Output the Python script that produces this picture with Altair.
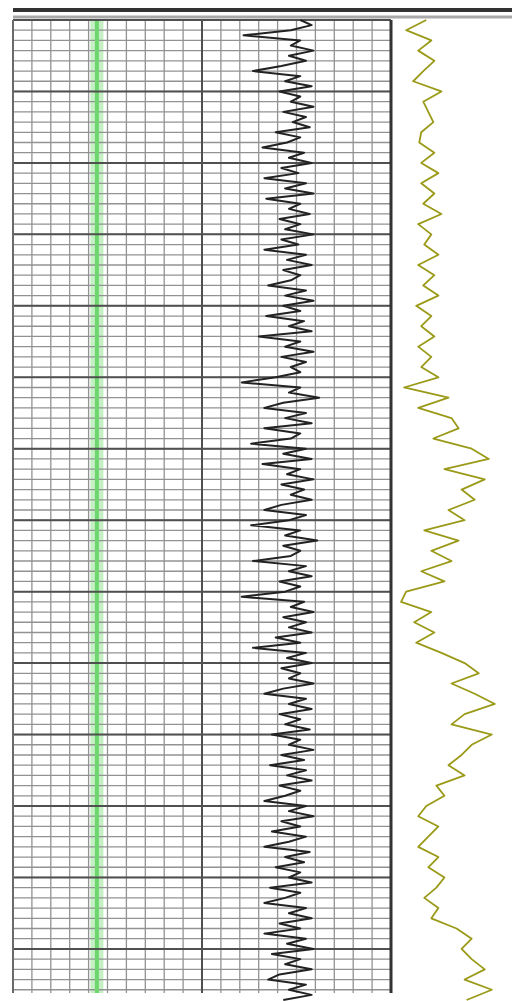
import altair as alt
import pandas as pd

# ---------------- data ----------------
# depth (m) sampled every 1 m for the left-track curve
black_top = 1000
black_vals = [
    152, 158, 147, 122, 152, 147, 159, 146, 155, 142,
    127, 152, 144, 158, 141, 152, 147, 159, 143, 155,
    148, 157, 139, 152, 145, 132, 154, 146, 158, 142,
    151, 133, 155, 144, 159, 134, 152, 146, 157, 141,
    152, 144, 159, 142, 151, 133, 155, 145, 158, 143,
    152, 147, 135, 155, 144, 159, 143, 152, 134, 154,
    146, 158, 130, 152, 144, 159, 142, 155, 147, 152,
    139, 121, 152, 146, 162, 143, 133, 155, 144, 158,
    133, 152, 147, 126, 155, 143, 158, 132, 152, 145,
    159, 142, 154, 147, 158, 142, 133, 155, 146, 126,
    152, 144, 161, 143, 152, 147, 127, 155, 146, 158,
    141, 152, 144, 121, 154, 147, 159, 143, 155, 146,
    158, 139, 152, 127, 155, 145, 158, 142, 152, 146,
    159, 143, 133, 155, 146, 158, 141, 152, 144, 157,
    137, 152, 146, 159, 142, 154, 136, 155, 145, 158,
    141, 152, 144, 133, 155, 146, 159, 142, 152, 137,
    155, 146, 133, 157, 144, 154, 139, 152, 146, 158,
    136, 152, 144, 133, 155, 146, 158, 141, 152, 133,
    155, 145, 159, 137, 152, 144, 158, 141, 135, 155,
    146, 158, 143,
]
black_depth = [black_top + i for i in range(len(black_vals))]

# right-track curve, sampled every 2 m
olive_vals = [
    35, 15, 40, 27, 43, 32, 22, 50, 32, 37,
    42, 30, 28, 43, 30, 47, 30, 43, 32, 50,
    27, 40, 33, 47, 27, 43, 32, 47, 25, 40,
    30, 43, 27, 40, 30, 47, 13, 57, 27, 60,
    67, 42, 80, 97, 53, 93, 70, 83, 57, 73,
    33, 67, 40, 60, 30, 53, 15, 10, 40, 23,
    43, 25, 50, 73, 87, 60, 83, 103, 73, 60,
    100, 80, 70, 57, 73, 45, 53, 35, 27, 47,
    37, 27, 47, 37, 53, 45, 33, 47, 40, 65,
    80, 70, 80, 93, 73, 100, 75,
]
olive_depth = [black_top + 2 * i for i in range(len(olive_vals))]

# grid / scales
LW, RW, H = 378, 121, 985
PX_PER_M = 5.104
GRID_TOP_PX = 12
grid_top = 1000
depth_min = grid_top - GRID_TOP_PX / PX_PER_M
depth_max = grid_top + (H - GRID_TOP_PX) / PX_PER_M

minor_depths = [1000 + 2 * i for i in range(96)]
major_depths = [1000 + 14 * i for i in range(14)]
minor_x = [10 * i for i in range(21)]
mid_x = [100]
edge_left = [0]
edge_right = [200]
green_x = [44.4]

yscale = alt.Scale(domain=[depth_min, depth_max], reverse=True, nice=False, zero=False, padding=0)
xl = alt.Scale(domain=[0, 200], nice=False, zero=False, padding=0)
xr = alt.Scale(domain=[0, 120], nice=False, zero=False, padding=0)


def hrules(vals, color, w):
    return alt.Chart(pd.DataFrame({"d": vals})).mark_rule(color=color, strokeWidth=w).encode(
        y=alt.Y("d:Q", scale=yscale, axis=None)
    )


def vbars(vals, color, w):
    df = pd.DataFrame({"v": vals, "t": [grid_top] * len(vals), "b": [depth_max] * len(vals)})
    return alt.Chart(df).mark_bar(color=color, size=w, orient="vertical").encode(
        x=alt.X("v:Q", scale=xl, axis=None),
        y=alt.Y("t:Q", scale=yscale, axis=None),
        y2="b:Q",
    )


def header(width):
    df = pd.DataFrame({"a": [0]})
    top = alt.Chart(df).mark_rect(color="#333333").encode(
        x=alt.value(0), x2=alt.value(width), y=alt.value(0), y2=alt.value(4)
    )
    sub = alt.Chart(df).mark_rect(color="#a8a8a8").encode(
        x=alt.value(0), x2=alt.value(width), y=alt.value(7.5), y2=alt.value(10.5)
    )
    return [top, sub]


# left track
minor_h = hrules(minor_depths, "#929292", 1.3)
major_h = hrules(major_depths, "#505050", 2)
minor_v = vbars(minor_x, "#929292", 1.3)
green_wide = vbars(green_x, "#c4f0c4", 13)
green_core = vbars(green_x, "#6fd66f", 4)
left_edge = vbars(edge_left, "#6a6a6a", 2)
mid_v = vbars(mid_x, "#505050", 2)
right_edge = vbars(edge_right, "#333333", 3)

black = alt.Chart(pd.DataFrame({"d": black_depth, "v": black_vals})).mark_line(
    color="#222222", strokeWidth=2, strokeJoin="round"
).encode(
    x=alt.X("v:Q", scale=xl, axis=None),
    y=alt.Y("d:Q", scale=yscale, axis=None),
    order="d:Q",
)

left = alt.layer(
    green_wide, minor_h, minor_v, green_core, major_h, left_edge, mid_v, right_edge, black,
    *header(LW)
).properties(width=LW, height=H)

olive = alt.Chart(pd.DataFrame({"d": olive_depth, "v": olive_vals})).mark_line(
    color="#9a9a18", strokeWidth=1.8, strokeJoin="round"
).encode(
    x=alt.X("v:Q", scale=xr, axis=None),
    y=alt.Y("d:Q", scale=yscale, axis=None),
    order="d:Q",
)

right = alt.layer(olive, *header(RW)).properties(width=RW, height=H)

pad = {"left": 4, "top": 0, "right": 0, "bottom": 0}
chart = (
    alt.hconcat(left, right, spacing=0, bounds="flush", padding=pad, background="white")
    .configure_view(stroke=None)
)

chart.save("out.html", embed_options={"renderer": "svg", "actions": False})
